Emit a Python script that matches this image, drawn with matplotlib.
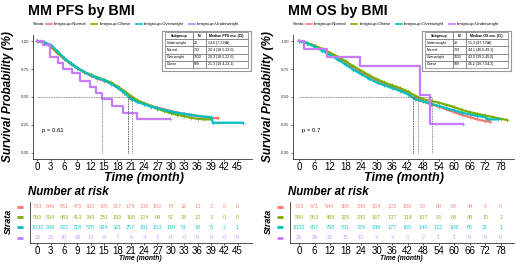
import matplotlib
matplotlib.use("Agg")
import matplotlib.pyplot as plt

plt.rcParams["font.family"] = ["Liberation Sans", "DejaVu Sans"]

W, H = 520, 264

groups = ["Normal", "Obese", "Overweight", "Underweight"]
colors = ["#F8766D", "#7CAE00", "#00BFC4", "#C77CFF"]

# ---- PFS curves ----
pfs_t = [0, 1.5, 3, 4.5, 6, 7.5, 9, 10.5, 12, 13.5, 15, 16.5, 18, 19.5, 21,
         22.5, 24, 25.5, 27, 28.5, 30, 31.5, 33, 34.5, 36, 37.5, 39]
pfs_normal = [1, .985, .95, .895, .84, .795, .755, .72, .69, .665, .645, .62, .585, .54, .49,
              .46, .44, .42, .405, .39, .375, .36, .35, .34, .33, .32, .315]
pfs_obese = [1, .988, .955, .90, .845, .80, .76, .725, .70, .675, .655, .63, .595, .555, .51,
             .47, .445, .42, .395, .375, .355, .34, .33, .315, .305, .30, .30]
pfs_overweight = [1, .99, .965, .91, .85, .80, .76, .725, .695, .67, .65, .62, .585, .54, .485,
                  .455, .435, .415, .40, .385, .37, .36, .35, .34, .33, .325, .32]
pfs_normal_tail = ([40.5], [.31])
pfs_obese_tail = ([], [])
pfs_overweight_tail = ([39.5, 46.2], [.27, .27])
pfs_under_t = [0, 1.2, 2.8, 4.7, 5.8, 7.7, 9.6, 11.8, 13.3, 14.6, 16.7, 19.3, 22.3, 29.8]
pfs_under_s = [1, .964, .857, .80, .75, .714, .64, .59, .54, .48, .42, .36, .30, .30]

# ---- OS curves ----
os_t = [0, 3, 6, 9, 12, 15, 18, 21, 24, 27, 30, 33, 36, 39, 42, 45, 48, 51, 54,
        57, 60, 63, 66, 69, 72, 75, 78]
os_normal = [1, .98, .955, .925, .89, .85, .81, .765, .725, .685, .65, .62, .595, .565, .53,
             .485, .46, .435, .415, .39, .365, .34, .32, .30, .285]
os_obese = [1, .985, .96, .93, .895, .86, .82, .775, .735, .695, .66, .63, .605, .58, .55,
            .51, .48, .465, .45, .43, .41, .385, .365, .35, .335, .32, .305]
os_overweight = [1, .98, .95, .915, .875, .835, .79, .745, .705, .665, .63, .605, .58, .555, .525,
                 .48, .46, .44, .42, .40, .38, .36, .345, .33, .32]
os_normal_tail = ([74], [.28])
os_obese_tail = ([80.5], [.295])
os_overweight_tail = ([73, 77], [.30, .30])
os_under_t = [0, 2, 10.8, 23.6, 46.8, 50.5, 63.5]
os_under_s = [1, .929, .857, .78, .52, .26, .26]

# ---- medians / tables ----
pfs_medians = [20.4, 21.3, 20.3, 14.6]
os_medians = [44.1, 46.2, 43.9, 51.3]
table_subgroups = ["Underweight", "Normal", "Overweight", "Obese"]
table_n = ["28", "733", "1032", "599"]
pfs_median_ci = ["14.6 (7.3-NA)", "20.4 (18.5-23.0)", "20.3 (18.5-22.0)", "21.3 (18.4-23.1)"]
os_median_ci = ["51.3 (47.7-NA)", "44.1 (40.6-49.1)", "43.9 (39.2-49.0)", "46.2 (38.7-54.2)"]

# ---- number at risk ----
pfs_risk_t = [0, 3, 6, 9, 12, 15, 18, 21, 24, 27, 30, 33, 36, 39, 42, 45]
pfs_risk_normal = [733, 646, 561, 479, 392, 295, 217, 174, 138, 102, 74, 32, 13, 2, 0, 0]
pfs_risk_obese = [599, 534, 469, 413, 340, 251, 199, 166, 124, 94, 57, 28, 12, 3, 0, 0]
pfs_risk_overweight = [1032, 938, 822, 718, 575, 434, 321, 257, 201, 153, 110, 51, 20, 5, 2, 1]
pfs_risk_under = [28, 23, 20, 18, 13, 8, 7, 6, 4, 3, 0, 0, 0, 0, 0, 0]

os_risk_t = [0, 6, 12, 18, 24, 30, 36, 42, 48, 54, 60, 66, 72, 78]
os_risk_normal = [733, 671, 544, 358, 248, 164, 123, 106, 90, 80, 66, 44, 6, 0]
os_risk_obese = [599, 563, 485, 329, 242, 167, 137, 118, 107, 96, 86, 48, 15, 2]
os_risk_overweight = [1032, 957, 798, 531, 376, 249, 177, 160, 140, 122, 109, 65, 21, 1]
os_risk_under = [28, 26, 22, 15, 12, 3, 3, 3, 2, 1, 1, 0, 0, 0]


fig = plt.figure(figsize=(W / 100, H / 100), dpi=100)


def px_axes(l, t, r, b):
    return fig.add_axes([l / W, 1 - b / H, (r - l) / W, (b - t) / H])


def ftext(x, y, s, **kw):
    fig.text(x / W, 1 - y / H, s, **kw)


def draw_panel(dx, title, curves, under, medians, pval, ci_col, ci_head,
               risk_t, risk_rows, x0, ppm, right):
    # survival plot
    ax = px_axes(dx + 33, 35, right, 159)
    for (t, s, tail), c in zip(curves, colors[:3]):
        tt = t[:len(s)] + tail[0]
        ss = s + tail[1]
        ax.plot(tt, ss, color=c, lw=1.6, marker="+", ms=2.2, mew=0.5)
    ax.plot(under[0], under[1], color=colors[3], lw=1.6, drawstyle="steps-post")
    ax.plot(under[0][-1:], under[1][-1:], color=colors[3], marker="+", ms=2.2, mew=0.5)
    for m in medians:
        ax.plot([m, m], [0, 0.5], ls=(0, (1, 1)), color="#666666", lw=0.6)
    ax.plot([0, max(medians)], [0.5, 0.5], ls=(0, (1, 1)), color="#666666", lw=0.6)
    ax.text(1, 0.2, pval, fontsize=4.3, va="center", ha="left")
    ax.set_xlim((dx + 33 - x0) / ppm, (right - x0) / ppm)
    ax.set_ylim(-0.054, 1.054)
    ax.set_xticks(risk_t)
    ax.set_yticks([0, 0.25, 0.5, 0.75, 1.0])
    ax.set_yticklabels(["0.00", "0.25", "0.50", "0.75", "1.00"])
    ax.tick_params(axis="y", labelsize=3.2, length=1.5, pad=1, width=0.5, colors="#333333")
    ax.tick_params(axis="x", labelsize=7, length=1.5, pad=0.8, width=0.5)
    for sp in ["top", "right"]:
        ax.spines[sp].set_visible(False)
    for sp in ["left", "bottom"]:
        ax.spines[sp].set_linewidth(0.6)
        ax.spines[sp].set_color("#333333")

    ftext(dx + 28, 15, title, fontsize=10.3, fontweight="bold", va="baseline")
    ftext(dx + 8, 97, "Survival Probability (%)", fontsize=8.5, fontweight="bold",
          fontstyle="italic", rotation=90, ha="center", va="center")
    ftext((dx + 33 + right) / 2 + 1, 177.5, "Time (month)", fontsize=9.1, fontweight="bold",
          fontstyle="italic", ha="center", va="center")

    # legend
    ftext(dx + 33, 24, "Strata", fontsize=3, va="center")
    handles = [plt.Line2D([], [], color=c, lw=1.2) for c in colors]
    fig.legend(handles, ["bmigroup=" + g for g in groups], loc="center left",
               bbox_to_anchor=((dx + 46) / W, 1 - 24 / H), ncol=4, fontsize=3,
               frameon=False, handlelength=1.4, handletextpad=0.5, columnspacing=1.2,
               borderpad=0, borderaxespad=0)

    # median table
    tb = px_axes(dx + 161.7, 30.7, dx + 251, 71.3)
    tb.set_xticks([])
    tb.set_yticks([])
    for sp in tb.spines.values():
        sp.set_color("#999999")
        sp.set_linewidth(0.8)
    cells = [[g, n, ci] for g, n, ci in zip(table_subgroups, table_n, ci_col)]
    tab = tb.table(cellText=cells, colLabels=["Subgroup", "N", ci_head],
                   colWidths=[0.34, 0.15, 0.51], cellLoc="left",
                   bbox=[0.037, 0.081, 0.926, 0.887])
    tab.auto_set_font_size(False)
    tab.set_fontsize(2.5)
    for (r, c), cell in tab.get_celld().items():
        cell.set_linewidth(0.4)
        cell.set_edgecolor("#555555")
        cell.PAD = 0.05
        if r == 0:
            cell.get_text().set_fontweight("bold")

    # risk table
    rk = px_axes(dx + 30, 201.7, right, 242.7)
    for i, (row, c) in enumerate(zip(risk_rows, colors)):
        for t, n in zip(risk_t, row):
            rk.text(t, i + 1, str(n), color=c, alpha=0.85, fontsize=4, ha="center", va="center")
        rk.plot([-0.043], [i + 1], marker="_", ms=4.5, mew=2, color=c,
                transform=rk.get_yaxis_transform(), clip_on=False)
    rk.set_xlim((dx + 30 - x0) / ppm, (right - x0) / ppm)
    rk.set_ylim(4.5, 0.5)
    rk.set_xticks(risk_t)
    rk.set_yticks([1, 2, 3, 4])
    rk.set_yticklabels([])
    rk.tick_params(axis="y", length=0)
    rk.tick_params(axis="x", labelsize=7, length=1.5, pad=0.8, width=0.5)
    for sp in ["top", "right"]:
        rk.spines[sp].set_visible(False)
    for sp in ["left", "bottom"]:
        rk.spines[sp].set_linewidth(0.6)
        rk.spines[sp].set_color("#333333")
    ftext(dx + 27.7, 192, "Number at risk", fontsize=8.3, fontweight="bold",
          fontstyle="italic", va="center")
    ftext(dx + 8, 221, "Strata", fontsize=6.4, fontweight="bold", fontstyle="italic",
          rotation=90, ha="center", va="center")
    ftext((dx + 30 + right) / 2 - 0.5, 258.5, "Time (month)", fontsize=4.9, fontweight="bold",
          fontstyle="italic", ha="center", va="center")


draw_panel(0, "MM PFS by BMI",
           [(pfs_t, pfs_normal, pfs_normal_tail),
            (pfs_t, pfs_obese, pfs_obese_tail),
            (pfs_t, pfs_overweight, pfs_overweight_tail)],
           (pfs_under_t, pfs_under_s), pfs_medians, "p = 0.61",
           pfs_median_ci, "Median PFS mo. (CI)", pfs_risk_t,
           [pfs_risk_normal, pfs_risk_obese, pfs_risk_overweight, pfs_risk_under],
           37.3, 4.45, 252)

draw_panel(260, "MM OS by BMI",
           [(os_t, os_normal, os_normal_tail),
            (os_t, os_obese, os_obese_tail),
            (os_t, os_overweight, os_overweight_tail)],
           (os_under_t, os_under_s), os_medians, "p = 0.7",
           os_median_ci, "Median OS mo. (CI)", os_risk_t,
           [os_risk_normal, os_risk_obese, os_risk_overweight, os_risk_under],
           299, 2.586, 514)

fig.savefig("out.png", dpi=100)
